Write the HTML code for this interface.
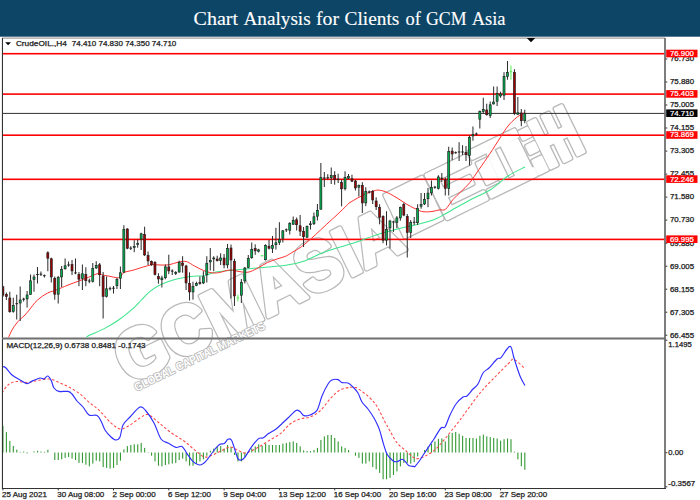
<!DOCTYPE html>
<html><head><meta charset="utf-8"><title>Chart Analysis</title>
<style>
html,body{margin:0;padding:0;background:#ffffff;width:700px;height:500px;overflow:hidden}
svg{display:block}
text{font-family:"Liberation Sans",sans-serif}
.t{stroke:#1a1a1a;stroke-width:0.25px}
.w{stroke:#ffffff;stroke-width:0.2px}
.serif{font-family:"Liberation Serif",serif}
</style></head><body>
<svg width="700" height="500" viewBox="0 0 700 500">
<defs>
<clipPath id="clipMain"><rect x="3" y="38.7" width="661.1" height="298.9"/></clipPath>
<clipPath id="clipMacd"><rect x="3" y="339.4" width="661.1" height="148.2"/></clipPath>
<clipPath id="clipAll"><rect x="3" y="38.7" width="661.1" height="448.9"/></clipPath>
</defs>
<rect x="0" y="0" width="700" height="36.7" fill="#0d4566"/>
<text x="193.6" y="24.6" class="serif" font-size="19.5" fill="#ffffff" stroke="#ffffff" stroke-width="0.12" textLength="44.5" lengthAdjust="spacingAndGlyphs">Chart</text>
<text x="243.4" y="24.6" class="serif" font-size="19.5" fill="#ffffff" stroke="#ffffff" stroke-width="0.12" textLength="67.3" lengthAdjust="spacingAndGlyphs">Analysis</text>
<text x="315.9" y="24.6" class="serif" font-size="19.5" fill="#ffffff" stroke="#ffffff" stroke-width="0.12" textLength="23.1" lengthAdjust="spacingAndGlyphs">for</text>
<text x="344.6" y="24.6" class="serif" font-size="19.5" fill="#ffffff" stroke="#ffffff" stroke-width="0.12" textLength="54.8" lengthAdjust="spacingAndGlyphs">Clients</text>
<text x="405.4" y="24.6" class="serif" font-size="19.5" fill="#ffffff" stroke="#ffffff" stroke-width="0.12" textLength="15.4" lengthAdjust="spacingAndGlyphs">of</text>
<text x="426.0" y="24.6" class="serif" font-size="19.5" fill="#ffffff" stroke="#ffffff" stroke-width="0.12" textLength="40.6" lengthAdjust="spacingAndGlyphs">GCM</text>
<text x="471.7" y="24.6" class="serif" font-size="19.5" fill="#ffffff" stroke="#ffffff" stroke-width="0.12" textLength="33.9" lengthAdjust="spacingAndGlyphs">Asia</text>
<g clip-path="url(#clipAll)">
<g transform="translate(129.1,384.7) rotate(-26)" fill="#b9b9b9" stroke="#b9b9b9" stroke-width="5.7" stroke-linejoin="round">
<text x="0" y="0" font-weight="bold" font-size="70" textLength="310" lengthAdjust="spacingAndGlyphs">GCMASIA</text>
<rect x="313" y="-58" width="41" height="46"/>
<rect x="322" y="-48" width="23" height="26"/>
<rect x="313" y="-38" width="41" height="6"/>
<rect x="359" y="-58" width="8" height="48"/>
<rect x="359" y="-58" width="44" height="8"/>
<rect x="359" y="-38" width="38" height="8"/>
<rect x="359" y="-18" width="44" height="8"/>
<rect x="408" y="-60" width="50" height="7"/>
<rect x="408" y="-17" width="50" height="7"/>
<rect x="424" y="-53" width="6" height="36"/>
<rect x="440" y="-53" width="6" height="36"/>
<rect x="410" y="-46" width="11" height="22"/>
<rect x="447" y="-50" width="9" height="36"/>
<rect x="462" y="-56" width="8" height="8"/>
<rect x="462" y="-40" width="8" height="8"/>
<rect x="461" y="-24" width="9" height="14"/>
<rect x="474" y="-60" width="7" height="50"/>
<rect x="489" y="-60" width="7" height="50"/>
<rect x="504" y="-61" width="7" height="51"/>
<rect x="482" y="-40" width="5" height="8"/>
<rect x="497" y="-40" width="5" height="8"/>
</g>
<g transform="translate(129.1,384.7) rotate(-26)" fill="#ffffff" stroke="#ffffff" stroke-width="3.1000000000000005" stroke-linejoin="round">
<text x="0" y="0" font-weight="bold" font-size="70" textLength="310" lengthAdjust="spacingAndGlyphs">GCMASIA</text>
<rect x="313" y="-58" width="41" height="46"/>
<rect x="322" y="-48" width="23" height="26"/>
<rect x="313" y="-38" width="41" height="6"/>
<rect x="359" y="-58" width="8" height="48"/>
<rect x="359" y="-58" width="44" height="8"/>
<rect x="359" y="-38" width="38" height="8"/>
<rect x="359" y="-18" width="44" height="8"/>
<rect x="408" y="-60" width="50" height="7"/>
<rect x="408" y="-17" width="50" height="7"/>
<rect x="424" y="-53" width="6" height="36"/>
<rect x="440" y="-53" width="6" height="36"/>
<rect x="410" y="-46" width="11" height="22"/>
<rect x="447" y="-50" width="9" height="36"/>
<rect x="462" y="-56" width="8" height="8"/>
<rect x="462" y="-40" width="8" height="8"/>
<rect x="461" y="-24" width="9" height="14"/>
<rect x="474" y="-60" width="7" height="50"/>
<rect x="489" y="-60" width="7" height="50"/>
<rect x="504" y="-61" width="7" height="51"/>
<rect x="482" y="-40" width="5" height="8"/>
<rect x="497" y="-40" width="5" height="8"/>
</g>
<g transform="translate(136.5,391.5) rotate(-26)" fill="#b9b9b9" stroke="#b9b9b9" stroke-width="1.7" stroke-linejoin="round">
<text x="0" y="0" font-weight="bold" font-size="11.5" textLength="144" lengthAdjust="spacingAndGlyphs">GLOBAL CAPITAL MARKETS</text>
</g>
<g transform="translate(136.5,391.5) rotate(-26)" fill="#ffffff" stroke="#ffffff" stroke-width="0.01" stroke-linejoin="round">
<text x="0" y="0" font-weight="bold" font-size="11.5" textLength="144" lengthAdjust="spacingAndGlyphs">GLOBAL CAPITAL MARKETS</text>
</g>
</g>
<rect x="2.4" y="37.5" width="662.5" height="1.2" fill="#9a9a9a"/>
<rect x="1.9" y="38" width="1.1" height="451" fill="#333"/>
<rect x="664.1" y="38" width="1.8" height="450" fill="#6f6f6f"/>
<rect x="2" y="337.5" width="664" height="2.0" fill="#6f6f6f"/>
<rect x="2" y="488" width="664" height="1" fill="#333"/>
<path d="M526.8,38 L535.2,38 L531,42.2 Z" fill="#000"/>
<path d="M5.2,42.3 L11,42.3 L8.1,45.2 Z" fill="#000"/>
<text x="15.9" y="45.9" font-size="7.2" fill="#1a1a1a" class="t" textLength="51" lengthAdjust="spacingAndGlyphs">CrudeOIL.,H4</text>
<text x="71.8" y="45.9" font-size="7.2" fill="#1a1a1a" class="t" textLength="104.5" lengthAdjust="spacingAndGlyphs">74.410 74.830 74.350 74.710</text>
<rect x="3" y="52.90" width="661.2" height="1.6" fill="#ff0000"/>
<rect x="3" y="93.30" width="661.2" height="1.6" fill="#ff0000"/>
<rect x="3" y="134.40" width="661.2" height="1.6" fill="#ff0000"/>
<rect x="3" y="178.50" width="661.2" height="1.6" fill="#ff0000"/>
<rect x="3" y="238.60" width="661.2" height="1.6" fill="#ff0000"/>
<rect x="3" y="112.9" width="661.2" height="1" fill="#303030"/>
<g clip-path="url(#clipMain)">
<path d="M86.00,337.50 C86.67,337.08 86.95,336.48 90.00,335.00 C93.05,333.52 99.53,331.10 104.30,328.60 C109.07,326.10 113.83,323.33 118.60,320.00 C123.37,316.67 129.10,311.93 132.90,308.60 C136.70,305.27 138.55,302.87 141.40,300.00 C144.25,297.13 146.67,294.02 150.00,291.40 C153.33,288.78 157.12,286.32 161.40,284.30 C165.68,282.28 170.93,280.62 175.70,279.30 C180.47,277.98 185.12,277.00 190.00,276.40 C194.88,275.80 200.83,276.40 205.00,275.70 C209.17,275.00 210.08,273.15 215.00,272.20 C219.92,271.25 227.00,270.75 234.50,270.00 C242.00,269.25 251.47,268.48 260.00,267.70 C268.53,266.92 278.27,266.43 285.70,265.30 C293.13,264.17 298.83,262.82 304.60,260.90 C310.37,258.98 315.07,255.90 320.30,253.80 C325.53,251.70 330.75,250.00 336.00,248.30 C341.25,246.60 346.55,245.30 351.80,243.60 C357.05,241.90 362.80,239.73 367.50,238.10 C372.20,236.47 375.00,235.32 380.00,233.80 C385.00,232.28 390.83,230.68 397.50,229.00 C404.17,227.32 413.75,225.33 420.00,223.70 C426.25,222.07 430.83,220.82 435.00,219.20 C439.17,217.58 442.17,215.53 445.00,214.00 C447.83,212.47 447.83,212.33 452.00,210.00 C456.17,207.67 463.67,203.33 470.00,200.00 C476.33,196.67 483.67,194.00 490.00,190.00 C496.33,186.00 502.17,179.83 508.00,176.00 C513.83,172.17 522.17,168.50 525.00,167.00" fill="none" stroke="#3ee48c" stroke-width="1.05"/>
<path d="M8.50,337.50 C9.08,336.25 10.75,332.25 12.00,330.00 C13.25,327.75 14.67,325.75 16.00,324.00 C17.33,322.25 18.50,321.00 20.00,319.50 C21.50,318.00 23.33,316.75 25.00,315.00 C26.67,313.25 28.33,311.08 30.00,309.00 C31.67,306.92 33.33,304.33 35.00,302.50 C36.67,300.67 38.33,299.33 40.00,298.00 C41.67,296.67 43.33,295.50 45.00,294.50 C46.67,293.50 48.33,292.67 50.00,292.00 C51.67,291.33 52.58,291.42 55.00,290.50 C57.42,289.58 62.00,287.53 64.50,286.50 C67.00,285.47 66.58,285.60 70.00,284.30 C73.42,283.00 80.50,280.45 85.00,278.70 C89.50,276.95 94.50,274.55 97.00,273.80 C99.50,273.05 98.50,273.88 100.00,274.20 C101.50,274.52 104.33,275.35 106.00,275.70 C107.67,276.05 108.25,275.97 110.00,276.30 C111.75,276.63 114.80,277.58 116.50,277.70 C118.20,277.82 118.95,277.87 120.20,277.00 C121.45,276.13 121.87,273.63 124.00,272.50 C126.13,271.37 129.50,271.20 133.00,270.20 C136.50,269.20 141.75,267.42 145.00,266.50 C148.25,265.58 150.00,264.95 152.50,264.70 C155.00,264.45 157.25,264.98 160.00,265.00 C162.75,265.02 166.00,265.27 169.00,264.80 C172.00,264.33 175.13,262.75 178.00,262.20 C180.87,261.65 183.45,260.87 186.20,261.50 C188.95,262.13 191.62,264.50 194.50,266.00 C197.38,267.50 200.75,269.38 203.50,270.50 C206.25,271.62 208.50,272.33 211.00,272.70 C213.50,273.07 215.33,273.15 218.50,272.70 C221.67,272.25 226.58,270.20 230.00,270.00 C233.42,269.80 236.00,271.13 239.00,271.50 C242.00,271.87 245.00,272.70 248.00,272.20 C251.00,271.70 253.75,270.12 257.00,268.50 C260.25,266.88 264.00,264.13 267.50,262.50 C271.00,260.87 274.97,259.75 278.00,258.70 C281.03,257.65 283.37,257.23 285.70,256.20 C288.03,255.17 289.38,254.08 292.00,252.50 C294.62,250.92 298.25,248.97 301.40,246.70 C304.55,244.43 307.75,241.65 310.90,238.90 C314.05,236.15 316.90,233.35 320.30,230.20 C323.70,227.05 328.85,222.25 331.30,220.00 C333.75,217.75 332.72,218.83 335.00,216.70 C337.28,214.57 342.50,209.57 345.00,207.20 C347.50,204.83 346.67,204.67 350.00,202.50 C353.33,200.33 361.00,196.15 365.00,194.20 C369.00,192.25 371.63,191.47 374.00,190.80 C376.37,190.13 377.20,190.00 379.20,190.20 C381.20,190.40 383.20,190.82 386.00,192.00 C388.80,193.18 392.33,195.13 396.00,197.30 C399.67,199.47 404.50,202.97 408.00,205.00 C411.50,207.03 414.50,208.38 417.00,209.50 C419.50,210.62 420.50,211.37 423.00,211.70 C425.50,212.03 429.17,211.82 432.00,211.50 C434.83,211.18 437.75,210.17 440.00,209.80 C442.25,209.43 443.33,211.02 445.50,209.30 C447.67,207.58 450.45,202.42 453.00,199.50 C455.55,196.58 457.98,194.63 460.80,191.80 C463.62,188.97 466.87,186.22 469.90,182.50 C472.93,178.78 475.65,174.33 479.00,169.50 C482.35,164.67 486.50,158.75 490.00,153.50 C493.50,148.25 497.00,142.58 500.00,138.00 C503.00,133.42 505.33,129.33 508.00,126.00 C510.67,122.67 513.67,120.00 516.00,118.00 C518.33,116.00 520.50,114.92 522.00,114.00 C523.50,113.08 524.50,112.75 525.00,112.50" fill="none" stroke="#ff3030" stroke-width="1.0"/>
<rect x="2.40" y="285.70" width="1" height="11.30" fill="#2a2a2a"/>
<rect x="1.90" y="286.80" width="2.0" height="8.40" fill="#9c0000" stroke="#1e1e1e" stroke-width="0.65"/>
<rect x="5.86" y="292.50" width="1" height="7.50" fill="#2a2a2a"/>
<rect x="5.36" y="294.60" width="2.0" height="1.80" fill="#9c0000" stroke="#1e1e1e" stroke-width="0.65"/>
<rect x="9.31" y="291.70" width="1" height="21.00" fill="#2a2a2a"/>
<rect x="8.81" y="298.00" width="2.0" height="13.70" fill="#9c0000" stroke="#1e1e1e" stroke-width="0.65"/>
<rect x="12.77" y="297.70" width="1" height="15.00" fill="#2a2a2a"/>
<rect x="12.27" y="305.50" width="2.0" height="5.90" fill="#00b04f" stroke="#1e1e1e" stroke-width="0.65"/>
<rect x="16.22" y="294.70" width="1" height="24.80" fill="#2a2a2a"/>
<rect x="15.42" y="303.20" width="2.6" height="1.0" fill="#1e1e1e"/>
<rect x="19.68" y="286.50" width="1" height="34.50" fill="#2a2a2a"/>
<rect x="19.18" y="300.00" width="2.0" height="3.00" fill="#00b04f" stroke="#1e1e1e" stroke-width="0.65"/>
<rect x="23.14" y="297.70" width="1" height="3.80" fill="#2a2a2a"/>
<rect x="22.34" y="298.70" width="2.6" height="1.0" fill="#1e1e1e"/>
<rect x="26.59" y="291.00" width="1" height="16.50" fill="#2a2a2a"/>
<rect x="26.09" y="295.00" width="2.0" height="3.90" fill="#00b04f" stroke="#1e1e1e" stroke-width="0.65"/>
<rect x="30.05" y="274.50" width="1" height="20.20" fill="#2a2a2a"/>
<rect x="29.55" y="280.80" width="2.0" height="13.60" fill="#00b04f" stroke="#1e1e1e" stroke-width="0.65"/>
<rect x="33.50" y="274.50" width="1" height="17.20" fill="#2a2a2a"/>
<rect x="33.00" y="277.00" width="2.0" height="2.40" fill="#00b04f" stroke="#1e1e1e" stroke-width="0.65"/>
<rect x="36.96" y="267.00" width="1" height="16.50" fill="#2a2a2a"/>
<rect x="36.16" y="274.00" width="2.6" height="1.0" fill="#1e1e1e"/>
<rect x="40.42" y="271.50" width="1" height="4.50" fill="#2a2a2a"/>
<rect x="39.62" y="273.70" width="2.6" height="1.0" fill="#1e1e1e"/>
<rect x="43.87" y="274.50" width="1" height="3.00" fill="#2a2a2a"/>
<rect x="43.07" y="275.20" width="2.6" height="1.0" fill="#1e1e1e"/>
<rect x="47.33" y="251.30" width="1" height="19.90" fill="#2a2a2a"/>
<rect x="46.83" y="252.80" width="2.0" height="5.40" fill="#9c0000" stroke="#1e1e1e" stroke-width="0.65"/>
<rect x="50.78" y="257.70" width="1" height="24.80" fill="#2a2a2a"/>
<rect x="50.28" y="258.80" width="2.0" height="18.10" fill="#9c0000" stroke="#1e1e1e" stroke-width="0.65"/>
<rect x="54.24" y="276.50" width="1" height="23.20" fill="#2a2a2a"/>
<rect x="53.74" y="278.30" width="2.0" height="15.90" fill="#9c0000" stroke="#1e1e1e" stroke-width="0.65"/>
<rect x="57.70" y="276.00" width="1" height="27.50" fill="#2a2a2a"/>
<rect x="57.20" y="277.50" width="2.0" height="16.70" fill="#00b04f" stroke="#1e1e1e" stroke-width="0.65"/>
<rect x="61.15" y="266.00" width="1" height="21.00" fill="#2a2a2a"/>
<rect x="60.65" y="269.30" width="2.0" height="7.60" fill="#00b04f" stroke="#1e1e1e" stroke-width="0.65"/>
<rect x="64.61" y="258.50" width="1" height="11.20" fill="#2a2a2a"/>
<rect x="64.11" y="265.80" width="2.0" height="2.90" fill="#00b04f" stroke="#1e1e1e" stroke-width="0.65"/>
<rect x="68.06" y="261.50" width="1" height="5.20" fill="#2a2a2a"/>
<rect x="67.26" y="264.50" width="2.6" height="1.0" fill="#1e1e1e"/>
<rect x="71.52" y="260.00" width="1" height="15.00" fill="#2a2a2a"/>
<rect x="71.02" y="264.50" width="2.0" height="6.40" fill="#9c0000" stroke="#1e1e1e" stroke-width="0.65"/>
<rect x="74.98" y="258.50" width="1" height="15.70" fill="#2a2a2a"/>
<rect x="74.18" y="272.40" width="2.6" height="1.0" fill="#1e1e1e"/>
<rect x="78.43" y="272.00" width="1" height="14.20" fill="#2a2a2a"/>
<rect x="77.93" y="274.50" width="2.0" height="4.70" fill="#9c0000" stroke="#1e1e1e" stroke-width="0.65"/>
<rect x="81.89" y="264.50" width="1" height="25.50" fill="#2a2a2a"/>
<rect x="81.39" y="273.80" width="2.0" height="4.60" fill="#00b04f" stroke="#1e1e1e" stroke-width="0.65"/>
<rect x="85.34" y="267.20" width="1" height="19.00" fill="#2a2a2a"/>
<rect x="84.84" y="274.50" width="2.0" height="6.20" fill="#9c0000" stroke="#1e1e1e" stroke-width="0.65"/>
<rect x="88.80" y="278.70" width="1" height="4.50" fill="#2a2a2a"/>
<rect x="88.00" y="280.50" width="2.6" height="1.0" fill="#1e1e1e"/>
<rect x="92.26" y="263.00" width="1" height="19.50" fill="#2a2a2a"/>
<rect x="91.76" y="268.50" width="2.0" height="12.90" fill="#00b04f" stroke="#1e1e1e" stroke-width="0.65"/>
<rect x="95.71" y="261.20" width="1" height="7.80" fill="#2a2a2a"/>
<rect x="95.21" y="265.50" width="2.0" height="2.40" fill="#00b04f" stroke="#1e1e1e" stroke-width="0.65"/>
<rect x="99.17" y="263.00" width="1" height="23.20" fill="#2a2a2a"/>
<rect x="98.67" y="264.80" width="2.0" height="9.90" fill="#9c0000" stroke="#1e1e1e" stroke-width="0.65"/>
<rect x="102.62" y="272.00" width="1" height="46.50" fill="#2a2a2a"/>
<rect x="102.12" y="276.00" width="2.0" height="20.40" fill="#9c0000" stroke="#1e1e1e" stroke-width="0.65"/>
<rect x="106.08" y="276.50" width="1" height="21.00" fill="#2a2a2a"/>
<rect x="105.58" y="288.80" width="2.0" height="7.60" fill="#00b04f" stroke="#1e1e1e" stroke-width="0.65"/>
<rect x="109.54" y="286.70" width="1" height="3.80" fill="#2a2a2a"/>
<rect x="108.74" y="288.20" width="2.6" height="1.0" fill="#1e1e1e"/>
<rect x="112.99" y="286.00" width="1" height="7.50" fill="#2a2a2a"/>
<rect x="112.19" y="287.70" width="2.6" height="1.0" fill="#1e1e1e"/>
<rect x="116.45" y="277.70" width="1" height="11.30" fill="#2a2a2a"/>
<rect x="115.95" y="279.50" width="2.0" height="6.20" fill="#00b04f" stroke="#1e1e1e" stroke-width="0.65"/>
<rect x="119.90" y="266.50" width="1" height="22.50" fill="#2a2a2a"/>
<rect x="119.40" y="272.80" width="2.0" height="5.40" fill="#00b04f" stroke="#1e1e1e" stroke-width="0.65"/>
<rect x="123.36" y="225.20" width="1" height="47.30" fill="#2a2a2a"/>
<rect x="122.86" y="229.30" width="2.0" height="42.90" fill="#00b04f" stroke="#1e1e1e" stroke-width="0.65"/>
<rect x="126.82" y="228.20" width="1" height="21.00" fill="#2a2a2a"/>
<rect x="126.32" y="229.00" width="2.0" height="19.20" fill="#9c0000" stroke="#1e1e1e" stroke-width="0.65"/>
<rect x="130.27" y="246.20" width="1" height="3.80" fill="#2a2a2a"/>
<rect x="129.47" y="247.70" width="2.6" height="1.0" fill="#1e1e1e"/>
<rect x="133.73" y="240.20" width="1" height="12.00" fill="#2a2a2a"/>
<rect x="133.23" y="246.50" width="2.0" height="0.90" fill="#00b04f" stroke="#1e1e1e" stroke-width="0.65"/>
<rect x="137.18" y="239.50" width="1" height="8.20" fill="#2a2a2a"/>
<rect x="136.68" y="243.50" width="2.0" height="0.90" fill="#00b04f" stroke="#1e1e1e" stroke-width="0.65"/>
<rect x="140.64" y="232.70" width="1" height="17.30" fill="#2a2a2a"/>
<rect x="140.14" y="233.80" width="2.0" height="5.40" fill="#00b04f" stroke="#1e1e1e" stroke-width="0.65"/>
<rect x="144.10" y="226.70" width="1" height="29.30" fill="#2a2a2a"/>
<rect x="143.60" y="234.50" width="2.0" height="20.40" fill="#9c0000" stroke="#1e1e1e" stroke-width="0.65"/>
<rect x="147.55" y="251.50" width="1" height="13.50" fill="#2a2a2a"/>
<rect x="147.05" y="255.50" width="2.0" height="5.40" fill="#9c0000" stroke="#1e1e1e" stroke-width="0.65"/>
<rect x="151.01" y="260.50" width="1" height="5.20" fill="#2a2a2a"/>
<rect x="150.51" y="261.50" width="2.0" height="3.20" fill="#9c0000" stroke="#1e1e1e" stroke-width="0.65"/>
<rect x="154.46" y="261.20" width="1" height="14.30" fill="#2a2a2a"/>
<rect x="153.96" y="262.30" width="2.0" height="12.10" fill="#9c0000" stroke="#1e1e1e" stroke-width="0.65"/>
<rect x="157.92" y="273.20" width="1" height="10.50" fill="#2a2a2a"/>
<rect x="157.42" y="276.50" width="2.0" height="2.40" fill="#9c0000" stroke="#1e1e1e" stroke-width="0.65"/>
<rect x="161.38" y="275.70" width="1" height="11.80" fill="#2a2a2a"/>
<rect x="160.88" y="278.00" width="2.0" height="1.70" fill="#00b04f" stroke="#1e1e1e" stroke-width="0.65"/>
<rect x="164.83" y="264.50" width="1" height="14.80" fill="#2a2a2a"/>
<rect x="164.33" y="266.90" width="2.0" height="10.80" fill="#00b04f" stroke="#1e1e1e" stroke-width="0.65"/>
<rect x="168.29" y="254.70" width="1" height="19.50" fill="#2a2a2a"/>
<rect x="167.79" y="266.90" width="2.0" height="4.00" fill="#9c0000" stroke="#1e1e1e" stroke-width="0.65"/>
<rect x="171.74" y="269.30" width="1" height="5.70" fill="#2a2a2a"/>
<rect x="170.94" y="270.60" width="2.6" height="1.0" fill="#1e1e1e"/>
<rect x="175.20" y="271.20" width="1" height="3.80" fill="#2a2a2a"/>
<rect x="174.70" y="272.60" width="2.0" height="0.90" fill="#00b04f" stroke="#1e1e1e" stroke-width="0.65"/>
<rect x="178.66" y="260.70" width="1" height="12.00" fill="#2a2a2a"/>
<rect x="178.16" y="262.50" width="2.0" height="9.50" fill="#00b04f" stroke="#1e1e1e" stroke-width="0.65"/>
<rect x="182.11" y="256.20" width="1" height="16.50" fill="#2a2a2a"/>
<rect x="181.61" y="263.00" width="2.0" height="2.40" fill="#9c0000" stroke="#1e1e1e" stroke-width="0.65"/>
<rect x="185.57" y="264.80" width="1" height="25.20" fill="#2a2a2a"/>
<rect x="185.07" y="266.00" width="2.0" height="16.90" fill="#9c0000" stroke="#1e1e1e" stroke-width="0.65"/>
<rect x="189.02" y="272.30" width="1" height="28.20" fill="#2a2a2a"/>
<rect x="188.52" y="283.50" width="2.0" height="8.40" fill="#9c0000" stroke="#1e1e1e" stroke-width="0.65"/>
<rect x="192.48" y="281.70" width="1" height="18.00" fill="#2a2a2a"/>
<rect x="191.98" y="286.50" width="2.0" height="5.40" fill="#00b04f" stroke="#1e1e1e" stroke-width="0.65"/>
<rect x="195.94" y="281.70" width="1" height="4.50" fill="#2a2a2a"/>
<rect x="195.44" y="283.50" width="2.0" height="2.00" fill="#00b04f" stroke="#1e1e1e" stroke-width="0.65"/>
<rect x="199.39" y="276.50" width="1" height="8.20" fill="#2a2a2a"/>
<rect x="198.89" y="282.50" width="2.0" height="0.90" fill="#9c0000" stroke="#1e1e1e" stroke-width="0.65"/>
<rect x="202.85" y="271.20" width="1" height="12.80" fill="#2a2a2a"/>
<rect x="202.35" y="276.80" width="2.0" height="6.10" fill="#00b04f" stroke="#1e1e1e" stroke-width="0.65"/>
<rect x="206.30" y="256.20" width="1" height="26.30" fill="#2a2a2a"/>
<rect x="205.80" y="263.30" width="2.0" height="11.40" fill="#00b04f" stroke="#1e1e1e" stroke-width="0.65"/>
<rect x="209.76" y="248.00" width="1" height="22.50" fill="#2a2a2a"/>
<rect x="209.26" y="260.30" width="2.0" height="1.60" fill="#00b04f" stroke="#1e1e1e" stroke-width="0.65"/>
<rect x="213.22" y="256.20" width="1" height="15.00" fill="#2a2a2a"/>
<rect x="212.72" y="258.00" width="2.0" height="0.90" fill="#00b04f" stroke="#1e1e1e" stroke-width="0.65"/>
<rect x="216.67" y="255.70" width="1" height="5.80" fill="#2a2a2a"/>
<rect x="216.17" y="259.00" width="2.0" height="1.70" fill="#9c0000" stroke="#1e1e1e" stroke-width="0.65"/>
<rect x="220.13" y="253.30" width="1" height="11.70" fill="#2a2a2a"/>
<rect x="219.63" y="258.00" width="2.0" height="2.40" fill="#00b04f" stroke="#1e1e1e" stroke-width="0.65"/>
<rect x="223.58" y="254.00" width="1" height="14.30" fill="#2a2a2a"/>
<rect x="223.08" y="258.00" width="2.0" height="6.90" fill="#9c0000" stroke="#1e1e1e" stroke-width="0.65"/>
<rect x="227.04" y="243.90" width="1" height="24.40" fill="#2a2a2a"/>
<rect x="226.54" y="248.50" width="2.0" height="16.40" fill="#00b04f" stroke="#1e1e1e" stroke-width="0.65"/>
<rect x="230.50" y="244.50" width="1" height="54.00" fill="#2a2a2a"/>
<rect x="230.00" y="248.00" width="2.0" height="12.00" fill="#9c0000" stroke="#1e1e1e" stroke-width="0.65"/>
<rect x="233.95" y="258.70" width="1" height="47.30" fill="#2a2a2a"/>
<rect x="233.45" y="261.30" width="2.0" height="34.60" fill="#9c0000" stroke="#1e1e1e" stroke-width="0.65"/>
<rect x="237.41" y="294.70" width="1" height="6.80" fill="#55ee55"/>
<rect x="236.61" y="297.50" width="2.6" height="1" fill="#55ee55"/>
<rect x="240.86" y="279.00" width="1" height="24.00" fill="#2a2a2a"/>
<rect x="240.36" y="282.30" width="2.0" height="12.90" fill="#00b04f" stroke="#1e1e1e" stroke-width="0.65"/>
<rect x="244.32" y="267.00" width="1" height="16.50" fill="#2a2a2a"/>
<rect x="243.82" y="268.00" width="2.0" height="12.90" fill="#00b04f" stroke="#1e1e1e" stroke-width="0.65"/>
<rect x="247.78" y="255.00" width="1" height="13.30" fill="#2a2a2a"/>
<rect x="247.28" y="258.30" width="2.0" height="9.10" fill="#00b04f" stroke="#1e1e1e" stroke-width="0.65"/>
<rect x="251.23" y="242.50" width="1" height="16.20" fill="#2a2a2a"/>
<rect x="250.73" y="249.30" width="2.0" height="8.40" fill="#00b04f" stroke="#1e1e1e" stroke-width="0.65"/>
<rect x="254.69" y="244.30" width="1" height="10.50" fill="#2a2a2a"/>
<rect x="254.19" y="248.60" width="2.0" height="2.20" fill="#9c0000" stroke="#1e1e1e" stroke-width="0.65"/>
<rect x="258.14" y="248.80" width="1" height="3.70" fill="#2a2a2a"/>
<rect x="257.64" y="249.90" width="2.0" height="1.30" fill="#00b04f" stroke="#1e1e1e" stroke-width="0.65"/>
<rect x="261.60" y="255.00" width="1" height="1.50" fill="#55ee55"/>
<rect x="260.80" y="255.20" width="2.6" height="1" fill="#55ee55"/>
<rect x="265.06" y="244.30" width="1" height="16.20" fill="#2a2a2a"/>
<rect x="264.56" y="245.40" width="2.0" height="14.30" fill="#00b04f" stroke="#1e1e1e" stroke-width="0.65"/>
<rect x="268.51" y="240.00" width="1" height="9.50" fill="#2a2a2a"/>
<rect x="268.01" y="246.20" width="2.0" height="2.00" fill="#9c0000" stroke="#1e1e1e" stroke-width="0.65"/>
<rect x="271.97" y="236.00" width="1" height="17.00" fill="#2a2a2a"/>
<rect x="271.47" y="245.40" width="2.0" height="3.10" fill="#00b04f" stroke="#1e1e1e" stroke-width="0.65"/>
<rect x="275.42" y="227.80" width="1" height="21.70" fill="#2a2a2a"/>
<rect x="274.92" y="242.80" width="2.0" height="1.90" fill="#00b04f" stroke="#1e1e1e" stroke-width="0.65"/>
<rect x="278.88" y="222.20" width="1" height="22.80" fill="#2a2a2a"/>
<rect x="278.38" y="239.30" width="2.0" height="3.10" fill="#00b04f" stroke="#1e1e1e" stroke-width="0.65"/>
<rect x="282.34" y="230.00" width="1" height="12.50" fill="#2a2a2a"/>
<rect x="281.84" y="230.80" width="2.0" height="7.40" fill="#00b04f" stroke="#1e1e1e" stroke-width="0.65"/>
<rect x="285.79" y="228.50" width="1" height="3.50" fill="#2a2a2a"/>
<rect x="284.99" y="229.30" width="2.6" height="1.0" fill="#1e1e1e"/>
<rect x="289.25" y="222.20" width="1" height="12.30" fill="#2a2a2a"/>
<rect x="288.75" y="223.30" width="2.0" height="6.90" fill="#00b04f" stroke="#1e1e1e" stroke-width="0.65"/>
<rect x="292.70" y="216.50" width="1" height="8.50" fill="#2a2a2a"/>
<rect x="292.20" y="220.30" width="2.0" height="3.90" fill="#00b04f" stroke="#1e1e1e" stroke-width="0.65"/>
<rect x="296.16" y="217.50" width="1" height="13.00" fill="#2a2a2a"/>
<rect x="295.66" y="219.80" width="2.0" height="4.90" fill="#9c0000" stroke="#1e1e1e" stroke-width="0.65"/>
<rect x="299.62" y="215.00" width="1" height="21.00" fill="#2a2a2a"/>
<rect x="299.12" y="225.80" width="2.0" height="5.40" fill="#9c0000" stroke="#1e1e1e" stroke-width="0.65"/>
<rect x="303.07" y="227.00" width="1" height="20.00" fill="#2a2a2a"/>
<rect x="302.57" y="231.30" width="2.0" height="5.40" fill="#9c0000" stroke="#1e1e1e" stroke-width="0.65"/>
<rect x="306.53" y="225.50" width="1" height="12.50" fill="#2a2a2a"/>
<rect x="306.03" y="226.30" width="2.0" height="10.90" fill="#00b04f" stroke="#1e1e1e" stroke-width="0.65"/>
<rect x="309.98" y="221.00" width="1" height="8.50" fill="#2a2a2a"/>
<rect x="309.48" y="223.80" width="2.0" height="0.90" fill="#00b04f" stroke="#1e1e1e" stroke-width="0.65"/>
<rect x="313.44" y="212.50" width="1" height="12.50" fill="#2a2a2a"/>
<rect x="312.94" y="216.80" width="2.0" height="6.90" fill="#00b04f" stroke="#1e1e1e" stroke-width="0.65"/>
<rect x="316.90" y="204.00" width="1" height="16.50" fill="#2a2a2a"/>
<rect x="316.40" y="210.30" width="2.0" height="5.90" fill="#00b04f" stroke="#1e1e1e" stroke-width="0.65"/>
<rect x="320.35" y="163.00" width="1" height="46.50" fill="#2a2a2a"/>
<rect x="319.85" y="177.50" width="2.0" height="31.70" fill="#00b04f" stroke="#1e1e1e" stroke-width="0.65"/>
<rect x="323.81" y="172.00" width="1" height="15.00" fill="#2a2a2a"/>
<rect x="323.01" y="177.50" width="2.6" height="1.0" fill="#1e1e1e"/>
<rect x="327.26" y="174.20" width="1" height="5.30" fill="#2a2a2a"/>
<rect x="326.46" y="177.30" width="2.6" height="1.0" fill="#1e1e1e"/>
<rect x="330.72" y="167.50" width="1" height="16.50" fill="#2a2a2a"/>
<rect x="330.22" y="175.30" width="2.0" height="2.40" fill="#00b04f" stroke="#1e1e1e" stroke-width="0.65"/>
<rect x="334.18" y="171.20" width="1" height="13.50" fill="#2a2a2a"/>
<rect x="333.68" y="175.30" width="2.0" height="3.90" fill="#9c0000" stroke="#1e1e1e" stroke-width="0.65"/>
<rect x="337.63" y="173.70" width="1" height="9.30" fill="#2a2a2a"/>
<rect x="336.83" y="178.80" width="2.6" height="1.0" fill="#1e1e1e"/>
<rect x="341.09" y="179.80" width="1" height="26.50" fill="#2a2a2a"/>
<rect x="340.59" y="182.60" width="2.0" height="6.20" fill="#9c0000" stroke="#1e1e1e" stroke-width="0.65"/>
<rect x="344.54" y="171.30" width="1" height="19.20" fill="#2a2a2a"/>
<rect x="344.04" y="177.30" width="2.0" height="11.40" fill="#00b04f" stroke="#1e1e1e" stroke-width="0.65"/>
<rect x="348.00" y="174.00" width="1" height="5.20" fill="#2a2a2a"/>
<rect x="347.50" y="176.50" width="2.0" height="1.70" fill="#00b04f" stroke="#1e1e1e" stroke-width="0.65"/>
<rect x="351.46" y="174.70" width="1" height="7.30" fill="#2a2a2a"/>
<rect x="350.96" y="178.80" width="2.0" height="2.40" fill="#9c0000" stroke="#1e1e1e" stroke-width="0.65"/>
<rect x="354.91" y="180.00" width="1" height="10.50" fill="#2a2a2a"/>
<rect x="354.41" y="181.00" width="2.0" height="6.90" fill="#9c0000" stroke="#1e1e1e" stroke-width="0.65"/>
<rect x="358.37" y="184.50" width="1" height="12.00" fill="#2a2a2a"/>
<rect x="357.87" y="185.50" width="2.0" height="1.70" fill="#00b04f" stroke="#1e1e1e" stroke-width="0.65"/>
<rect x="361.82" y="182.20" width="1" height="30.80" fill="#2a2a2a"/>
<rect x="361.32" y="185.50" width="2.0" height="17.40" fill="#9c0000" stroke="#1e1e1e" stroke-width="0.65"/>
<rect x="365.28" y="187.20" width="1" height="19.00" fill="#2a2a2a"/>
<rect x="364.78" y="191.50" width="2.0" height="11.40" fill="#00b04f" stroke="#1e1e1e" stroke-width="0.65"/>
<rect x="368.74" y="190.50" width="1" height="3.00" fill="#2a2a2a"/>
<rect x="367.94" y="191.50" width="2.6" height="1.0" fill="#1e1e1e"/>
<rect x="372.19" y="190.20" width="1" height="13.80" fill="#2a2a2a"/>
<rect x="371.69" y="191.50" width="2.0" height="8.40" fill="#9c0000" stroke="#1e1e1e" stroke-width="0.65"/>
<rect x="375.65" y="197.30" width="1" height="12.70" fill="#2a2a2a"/>
<rect x="375.15" y="201.00" width="2.0" height="5.70" fill="#9c0000" stroke="#1e1e1e" stroke-width="0.65"/>
<rect x="379.10" y="204.20" width="1" height="20.10" fill="#2a2a2a"/>
<rect x="378.60" y="207.40" width="2.0" height="9.90" fill="#9c0000" stroke="#1e1e1e" stroke-width="0.65"/>
<rect x="382.56" y="215.30" width="1" height="27.90" fill="#2a2a2a"/>
<rect x="382.06" y="216.50" width="2.0" height="23.70" fill="#9c0000" stroke="#1e1e1e" stroke-width="0.65"/>
<rect x="386.02" y="211.20" width="1" height="34.30" fill="#2a2a2a"/>
<rect x="385.52" y="229.30" width="2.0" height="10.90" fill="#00b04f" stroke="#1e1e1e" stroke-width="0.65"/>
<rect x="389.47" y="219.80" width="1" height="28.70" fill="#2a2a2a"/>
<rect x="388.97" y="221.00" width="2.0" height="6.90" fill="#00b04f" stroke="#1e1e1e" stroke-width="0.65"/>
<rect x="392.93" y="220.70" width="1" height="11.30" fill="#2a2a2a"/>
<rect x="392.13" y="221.50" width="2.6" height="1.0" fill="#1e1e1e"/>
<rect x="396.38" y="216.10" width="1" height="12.10" fill="#2a2a2a"/>
<rect x="395.88" y="217.90" width="2.0" height="4.60" fill="#00b04f" stroke="#1e1e1e" stroke-width="0.65"/>
<rect x="399.84" y="206.60" width="1" height="14.10" fill="#2a2a2a"/>
<rect x="399.34" y="207.60" width="2.0" height="10.30" fill="#00b04f" stroke="#1e1e1e" stroke-width="0.65"/>
<rect x="403.30" y="202.70" width="1" height="13.50" fill="#2a2a2a"/>
<rect x="402.80" y="204.60" width="2.0" height="10.50" fill="#9c0000" stroke="#1e1e1e" stroke-width="0.65"/>
<rect x="406.75" y="214.00" width="1" height="43.50" fill="#2a2a2a"/>
<rect x="406.25" y="216.50" width="2.0" height="15.90" fill="#9c0000" stroke="#1e1e1e" stroke-width="0.65"/>
<rect x="410.21" y="220.00" width="1" height="18.00" fill="#2a2a2a"/>
<rect x="409.71" y="222.50" width="2.0" height="9.90" fill="#00b04f" stroke="#1e1e1e" stroke-width="0.65"/>
<rect x="413.66" y="217.00" width="1" height="8.00" fill="#2a2a2a"/>
<rect x="412.86" y="221.70" width="2.6" height="1.0" fill="#1e1e1e"/>
<rect x="417.12" y="204.20" width="1" height="20.80" fill="#2a2a2a"/>
<rect x="416.62" y="208.30" width="2.0" height="14.40" fill="#00b04f" stroke="#1e1e1e" stroke-width="0.65"/>
<rect x="420.58" y="193.00" width="1" height="15.70" fill="#2a2a2a"/>
<rect x="420.08" y="204.50" width="2.0" height="1.70" fill="#00b04f" stroke="#1e1e1e" stroke-width="0.65"/>
<rect x="424.03" y="193.00" width="1" height="12.00" fill="#2a2a2a"/>
<rect x="423.53" y="199.30" width="2.0" height="4.60" fill="#00b04f" stroke="#1e1e1e" stroke-width="0.65"/>
<rect x="427.49" y="188.00" width="1" height="19.20" fill="#2a2a2a"/>
<rect x="426.99" y="193.10" width="2.0" height="5.60" fill="#00b04f" stroke="#1e1e1e" stroke-width="0.65"/>
<rect x="430.94" y="180.50" width="1" height="15.00" fill="#2a2a2a"/>
<rect x="430.44" y="187.50" width="2.0" height="5.40" fill="#00b04f" stroke="#1e1e1e" stroke-width="0.65"/>
<rect x="434.40" y="185.80" width="1" height="3.00" fill="#2a2a2a"/>
<rect x="433.60" y="186.70" width="2.6" height="1.0" fill="#1e1e1e"/>
<rect x="437.86" y="175.20" width="1" height="14.30" fill="#2a2a2a"/>
<rect x="437.36" y="177.00" width="2.0" height="11.40" fill="#00b04f" stroke="#1e1e1e" stroke-width="0.65"/>
<rect x="441.31" y="173.00" width="1" height="9.00" fill="#2a2a2a"/>
<rect x="440.51" y="177.70" width="2.6" height="1.0" fill="#1e1e1e"/>
<rect x="444.77" y="177.50" width="1" height="18.00" fill="#2a2a2a"/>
<rect x="444.27" y="180.00" width="2.0" height="8.40" fill="#9c0000" stroke="#1e1e1e" stroke-width="0.65"/>
<rect x="448.22" y="146.70" width="1" height="48.80" fill="#2a2a2a"/>
<rect x="447.72" y="151.50" width="2.0" height="36.90" fill="#00b04f" stroke="#1e1e1e" stroke-width="0.65"/>
<rect x="451.68" y="147.50" width="1" height="12.70" fill="#2a2a2a"/>
<rect x="451.18" y="151.10" width="2.0" height="2.80" fill="#9c0000" stroke="#1e1e1e" stroke-width="0.65"/>
<rect x="455.14" y="151.50" width="1" height="2.20" fill="#2a2a2a"/>
<rect x="454.34" y="152.20" width="2.6" height="1.0" fill="#1e1e1e"/>
<rect x="458.59" y="142.20" width="1" height="18.80" fill="#2a2a2a"/>
<rect x="457.79" y="151.50" width="2.6" height="1.0" fill="#1e1e1e"/>
<rect x="462.05" y="145.20" width="1" height="9.80" fill="#2a2a2a"/>
<rect x="461.25" y="151.50" width="2.6" height="1.0" fill="#1e1e1e"/>
<rect x="465.50" y="146.00" width="1" height="15.00" fill="#2a2a2a"/>
<rect x="465.00" y="152.30" width="2.0" height="2.40" fill="#9c0000" stroke="#1e1e1e" stroke-width="0.65"/>
<rect x="468.96" y="135.50" width="1" height="30.00" fill="#2a2a2a"/>
<rect x="468.46" y="137.30" width="2.0" height="18.10" fill="#00b04f" stroke="#1e1e1e" stroke-width="0.65"/>
<rect x="472.42" y="126.50" width="1" height="14.20" fill="#2a2a2a"/>
<rect x="471.92" y="134.30" width="2.0" height="1.60" fill="#00b04f" stroke="#1e1e1e" stroke-width="0.65"/>
<rect x="475.87" y="132.50" width="1" height="3.00" fill="#2a2a2a"/>
<rect x="475.07" y="133.50" width="2.6" height="1.0" fill="#1e1e1e"/>
<rect x="479.33" y="110.50" width="1" height="18.00" fill="#2a2a2a"/>
<rect x="478.83" y="111.50" width="2.0" height="7.70" fill="#00b04f" stroke="#1e1e1e" stroke-width="0.65"/>
<rect x="482.78" y="97.70" width="1" height="15.80" fill="#2a2a2a"/>
<rect x="482.28" y="109.60" width="2.0" height="1.80" fill="#00b04f" stroke="#1e1e1e" stroke-width="0.65"/>
<rect x="486.24" y="103.70" width="1" height="12.00" fill="#2a2a2a"/>
<rect x="485.74" y="110.00" width="2.0" height="4.70" fill="#9c0000" stroke="#1e1e1e" stroke-width="0.65"/>
<rect x="489.70" y="101.50" width="1" height="16.50" fill="#2a2a2a"/>
<rect x="489.20" y="104.80" width="2.0" height="10.60" fill="#00b04f" stroke="#1e1e1e" stroke-width="0.65"/>
<rect x="493.15" y="86.50" width="1" height="18.00" fill="#2a2a2a"/>
<rect x="492.65" y="102.10" width="2.0" height="1.80" fill="#00b04f" stroke="#1e1e1e" stroke-width="0.65"/>
<rect x="496.61" y="86.50" width="1" height="19.50" fill="#2a2a2a"/>
<rect x="496.11" y="93.50" width="2.0" height="7.70" fill="#00b04f" stroke="#1e1e1e" stroke-width="0.65"/>
<rect x="500.06" y="91.70" width="1" height="6.00" fill="#2a2a2a"/>
<rect x="499.56" y="94.00" width="2.0" height="1.90" fill="#00b04f" stroke="#1e1e1e" stroke-width="0.65"/>
<rect x="503.52" y="72.20" width="1" height="27.80" fill="#2a2a2a"/>
<rect x="503.02" y="76.30" width="2.0" height="18.90" fill="#00b04f" stroke="#1e1e1e" stroke-width="0.65"/>
<rect x="506.98" y="61.00" width="1" height="18.70" fill="#2a2a2a"/>
<rect x="506.48" y="72.50" width="2.0" height="3.90" fill="#00b04f" stroke="#1e1e1e" stroke-width="0.65"/>
<rect x="510.43" y="65.50" width="1" height="14.20" fill="#55ee55"/>
<rect x="509.63" y="71.20" width="2.6" height="1" fill="#55ee55"/>
<rect x="513.89" y="69.20" width="1" height="45.80" fill="#2a2a2a"/>
<rect x="513.39" y="72.50" width="2.0" height="40.70" fill="#9c0000" stroke="#1e1e1e" stroke-width="0.65"/>
<rect x="517.34" y="97.00" width="1" height="18.00" fill="#2a2a2a"/>
<rect x="516.84" y="112.80" width="2.0" height="1.40" fill="#00b04f" stroke="#1e1e1e" stroke-width="0.65"/>
<rect x="520.80" y="109.00" width="1" height="17.20" fill="#2a2a2a"/>
<rect x="520.30" y="113.00" width="2.0" height="7.70" fill="#9c0000" stroke="#1e1e1e" stroke-width="0.65"/>
<rect x="524.26" y="109.70" width="1" height="13.50" fill="#2a2a2a"/>
<rect x="523.76" y="113.80" width="2.0" height="6.90" fill="#00b04f" stroke="#1e1e1e" stroke-width="0.65"/>
</g>
<text x="6.4" y="348.3" font-size="7.2" fill="#1a1a1a" class="t" textLength="139.2" lengthAdjust="spacingAndGlyphs">MACD(12,26,9) 0.6738 0.8481 -0.1743</text>
<g clip-path="url(#clipMacd)">
<rect x="2.40" y="426.00" width="1.1" height="26.50" fill="#339933"/>
<rect x="5.86" y="432.10" width="1.1" height="20.40" fill="#339933"/>
<rect x="9.31" y="440.90" width="1.1" height="11.60" fill="#339933"/>
<rect x="12.77" y="445.90" width="1.1" height="6.60" fill="#339933"/>
<rect x="16.22" y="449.70" width="1.1" height="2.80" fill="#339933"/>
<rect x="19.68" y="451.90" width="1.1" height="0.60" fill="#339933"/>
<rect x="23.14" y="451.50" width="1.1" height="1.00" fill="#339933"/>
<rect x="26.59" y="452.50" width="1.1" height="1.00" fill="#339933"/>
<rect x="33.50" y="451.40" width="1.1" height="1.10" fill="#339933"/>
<rect x="36.96" y="450.80" width="1.1" height="1.70" fill="#339933"/>
<rect x="40.42" y="451.50" width="1.1" height="1.00" fill="#339933"/>
<rect x="43.87" y="451.80" width="1.1" height="0.70" fill="#339933"/>
<rect x="47.33" y="449.70" width="1.1" height="2.80" fill="#339933"/>
<rect x="54.24" y="452.50" width="1.1" height="7.50" fill="#339933"/>
<rect x="57.70" y="452.50" width="1.1" height="7.50" fill="#339933"/>
<rect x="61.15" y="452.50" width="1.1" height="6.80" fill="#339933"/>
<rect x="64.61" y="452.50" width="1.1" height="5.40" fill="#339933"/>
<rect x="68.06" y="452.50" width="1.1" height="4.60" fill="#339933"/>
<rect x="71.52" y="452.50" width="1.1" height="6.10" fill="#339933"/>
<rect x="74.98" y="452.50" width="1.1" height="7.50" fill="#339933"/>
<rect x="78.43" y="452.50" width="1.1" height="10.40" fill="#339933"/>
<rect x="81.89" y="452.50" width="1.1" height="10.40" fill="#339933"/>
<rect x="85.34" y="452.50" width="1.1" height="12.20" fill="#339933"/>
<rect x="88.80" y="452.50" width="1.1" height="13.90" fill="#339933"/>
<rect x="92.26" y="452.50" width="1.1" height="11.10" fill="#339933"/>
<rect x="95.71" y="452.50" width="1.1" height="8.20" fill="#339933"/>
<rect x="99.17" y="452.50" width="1.1" height="8.90" fill="#339933"/>
<rect x="102.62" y="452.50" width="1.1" height="14.60" fill="#339933"/>
<rect x="106.08" y="452.50" width="1.1" height="15.40" fill="#339933"/>
<rect x="109.54" y="452.50" width="1.1" height="16.10" fill="#339933"/>
<rect x="112.99" y="452.50" width="1.1" height="15.40" fill="#339933"/>
<rect x="116.45" y="452.50" width="1.1" height="12.50" fill="#339933"/>
<rect x="119.90" y="452.50" width="1.1" height="8.20" fill="#339933"/>
<rect x="123.36" y="449.30" width="1.1" height="3.20" fill="#339933"/>
<rect x="126.82" y="446.10" width="1.1" height="6.40" fill="#339933"/>
<rect x="130.27" y="445.00" width="1.1" height="7.50" fill="#339933"/>
<rect x="133.73" y="444.30" width="1.1" height="8.20" fill="#339933"/>
<rect x="137.18" y="444.30" width="1.1" height="8.20" fill="#339933"/>
<rect x="140.64" y="442.90" width="1.1" height="9.60" fill="#339933"/>
<rect x="144.10" y="447.90" width="1.1" height="4.60" fill="#339933"/>
<rect x="147.55" y="452.10" width="1.1" height="0.40" fill="#339933"/>
<rect x="151.01" y="452.50" width="1.1" height="3.20" fill="#339933"/>
<rect x="154.46" y="452.50" width="1.1" height="8.90" fill="#339933"/>
<rect x="157.92" y="452.50" width="1.1" height="13.20" fill="#339933"/>
<rect x="161.38" y="452.50" width="1.1" height="13.90" fill="#339933"/>
<rect x="164.83" y="452.50" width="1.1" height="12.50" fill="#339933"/>
<rect x="168.29" y="452.50" width="1.1" height="11.80" fill="#339933"/>
<rect x="171.74" y="452.50" width="1.1" height="11.10" fill="#339933"/>
<rect x="175.20" y="452.50" width="1.1" height="10.40" fill="#339933"/>
<rect x="178.66" y="452.50" width="1.1" height="7.50" fill="#339933"/>
<rect x="182.11" y="452.50" width="1.1" height="6.10" fill="#339933"/>
<rect x="185.57" y="452.50" width="1.1" height="8.90" fill="#339933"/>
<rect x="189.02" y="452.50" width="1.1" height="13.20" fill="#339933"/>
<rect x="192.48" y="452.50" width="1.1" height="13.20" fill="#339933"/>
<rect x="195.94" y="452.50" width="1.1" height="11.10" fill="#339933"/>
<rect x="199.39" y="452.50" width="1.1" height="8.90" fill="#339933"/>
<rect x="202.85" y="452.50" width="1.1" height="6.80" fill="#339933"/>
<rect x="206.30" y="452.50" width="1.1" height="3.20" fill="#339933"/>
<rect x="209.76" y="450.70" width="1.1" height="1.80" fill="#339933"/>
<rect x="213.22" y="448.60" width="1.1" height="3.90" fill="#339933"/>
<rect x="216.67" y="446.40" width="1.1" height="6.10" fill="#339933"/>
<rect x="220.13" y="446.10" width="1.1" height="6.40" fill="#339933"/>
<rect x="223.58" y="448.60" width="1.1" height="3.90" fill="#339933"/>
<rect x="227.04" y="445.00" width="1.1" height="7.50" fill="#339933"/>
<rect x="230.50" y="447.10" width="1.1" height="5.40" fill="#339933"/>
<rect x="233.95" y="452.50" width="1.1" height="2.50" fill="#339933"/>
<rect x="237.41" y="452.50" width="1.1" height="8.90" fill="#339933"/>
<rect x="240.86" y="452.50" width="1.1" height="8.90" fill="#339933"/>
<rect x="244.32" y="452.50" width="1.1" height="4.60" fill="#339933"/>
<rect x="247.78" y="452.00" width="1.1" height="0.50" fill="#339933"/>
<rect x="251.23" y="448.60" width="1.1" height="3.90" fill="#339933"/>
<rect x="254.69" y="446.40" width="1.1" height="6.10" fill="#339933"/>
<rect x="258.14" y="444.30" width="1.1" height="8.20" fill="#339933"/>
<rect x="261.60" y="445.70" width="1.1" height="6.80" fill="#339933"/>
<rect x="265.06" y="443.60" width="1.1" height="8.90" fill="#339933"/>
<rect x="268.51" y="445.00" width="1.1" height="7.50" fill="#339933"/>
<rect x="271.97" y="445.00" width="1.1" height="7.50" fill="#339933"/>
<rect x="275.42" y="445.00" width="1.1" height="7.50" fill="#339933"/>
<rect x="278.88" y="445.00" width="1.1" height="7.50" fill="#339933"/>
<rect x="282.34" y="443.60" width="1.1" height="8.90" fill="#339933"/>
<rect x="285.79" y="442.90" width="1.1" height="9.60" fill="#339933"/>
<rect x="289.25" y="442.10" width="1.1" height="10.40" fill="#339933"/>
<rect x="292.70" y="441.40" width="1.1" height="11.10" fill="#339933"/>
<rect x="296.16" y="442.90" width="1.1" height="9.60" fill="#339933"/>
<rect x="299.62" y="446.40" width="1.1" height="6.10" fill="#339933"/>
<rect x="303.07" y="450.40" width="1.1" height="2.10" fill="#339933"/>
<rect x="306.53" y="451.10" width="1.1" height="1.40" fill="#339933"/>
<rect x="309.98" y="451.10" width="1.1" height="1.40" fill="#339933"/>
<rect x="313.44" y="450.00" width="1.1" height="2.50" fill="#339933"/>
<rect x="316.90" y="447.90" width="1.1" height="4.60" fill="#339933"/>
<rect x="320.35" y="440.00" width="1.1" height="12.50" fill="#339933"/>
<rect x="323.81" y="436.40" width="1.1" height="16.10" fill="#339933"/>
<rect x="327.26" y="435.00" width="1.1" height="17.50" fill="#339933"/>
<rect x="330.72" y="435.00" width="1.1" height="17.50" fill="#339933"/>
<rect x="334.18" y="437.90" width="1.1" height="14.60" fill="#339933"/>
<rect x="337.63" y="441.40" width="1.1" height="11.10" fill="#339933"/>
<rect x="341.09" y="446.40" width="1.1" height="6.10" fill="#339933"/>
<rect x="344.54" y="447.90" width="1.1" height="4.60" fill="#339933"/>
<rect x="348.00" y="450.00" width="1.1" height="2.50" fill="#339933"/>
<rect x="354.91" y="452.50" width="1.1" height="3.20" fill="#339933"/>
<rect x="358.37" y="452.50" width="1.1" height="5.40" fill="#339933"/>
<rect x="361.82" y="452.50" width="1.1" height="11.10" fill="#339933"/>
<rect x="365.28" y="452.50" width="1.1" height="11.10" fill="#339933"/>
<rect x="368.74" y="452.50" width="1.1" height="8.90" fill="#339933"/>
<rect x="372.19" y="452.50" width="1.1" height="14.60" fill="#339933"/>
<rect x="375.65" y="452.50" width="1.1" height="16.80" fill="#339933"/>
<rect x="379.10" y="452.50" width="1.1" height="20.40" fill="#339933"/>
<rect x="382.56" y="452.50" width="1.1" height="26.80" fill="#339933"/>
<rect x="386.02" y="452.50" width="1.1" height="26.80" fill="#339933"/>
<rect x="389.47" y="452.50" width="1.1" height="25.40" fill="#339933"/>
<rect x="392.93" y="452.50" width="1.1" height="22.50" fill="#339933"/>
<rect x="396.38" y="452.50" width="1.1" height="18.90" fill="#339933"/>
<rect x="399.84" y="452.50" width="1.1" height="13.90" fill="#339933"/>
<rect x="403.30" y="452.50" width="1.1" height="10.40" fill="#339933"/>
<rect x="406.75" y="452.50" width="1.1" height="10.40" fill="#339933"/>
<rect x="410.21" y="452.50" width="1.1" height="11.10" fill="#339933"/>
<rect x="413.66" y="452.50" width="1.1" height="9.60" fill="#339933"/>
<rect x="417.12" y="452.50" width="1.1" height="3.90" fill="#339933"/>
<rect x="424.03" y="450.00" width="1.1" height="2.50" fill="#339933"/>
<rect x="427.49" y="446.60" width="1.1" height="5.90" fill="#339933"/>
<rect x="430.94" y="444.00" width="1.1" height="8.50" fill="#339933"/>
<rect x="434.40" y="441.40" width="1.1" height="11.10" fill="#339933"/>
<rect x="437.86" y="438.90" width="1.1" height="13.60" fill="#339933"/>
<rect x="441.31" y="438.50" width="1.1" height="14.00" fill="#339933"/>
<rect x="444.77" y="441.40" width="1.1" height="11.10" fill="#339933"/>
<rect x="448.22" y="434.60" width="1.1" height="17.90" fill="#339933"/>
<rect x="451.68" y="432.90" width="1.1" height="19.60" fill="#339933"/>
<rect x="455.14" y="432.00" width="1.1" height="20.50" fill="#339933"/>
<rect x="458.59" y="433.70" width="1.1" height="18.80" fill="#339933"/>
<rect x="462.05" y="435.80" width="1.1" height="16.70" fill="#339933"/>
<rect x="465.50" y="438.00" width="1.1" height="14.50" fill="#339933"/>
<rect x="468.96" y="438.00" width="1.1" height="14.50" fill="#339933"/>
<rect x="472.42" y="438.00" width="1.1" height="14.50" fill="#339933"/>
<rect x="475.87" y="438.50" width="1.1" height="14.00" fill="#339933"/>
<rect x="479.33" y="435.80" width="1.1" height="16.70" fill="#339933"/>
<rect x="482.78" y="434.60" width="1.1" height="17.90" fill="#339933"/>
<rect x="486.24" y="436.30" width="1.1" height="16.20" fill="#339933"/>
<rect x="489.70" y="437.10" width="1.1" height="15.40" fill="#339933"/>
<rect x="493.15" y="438.00" width="1.1" height="14.50" fill="#339933"/>
<rect x="496.61" y="438.50" width="1.1" height="14.00" fill="#339933"/>
<rect x="500.06" y="440.60" width="1.1" height="11.90" fill="#339933"/>
<rect x="503.52" y="439.20" width="1.1" height="13.30" fill="#339933"/>
<rect x="506.98" y="438.50" width="1.1" height="14.00" fill="#339933"/>
<rect x="510.43" y="439.20" width="1.1" height="13.30" fill="#339933"/>
<rect x="513.89" y="451.70" width="1.1" height="0.80" fill="#339933"/>
<rect x="517.34" y="452.50" width="1.1" height="6.90" fill="#339933"/>
<rect x="520.80" y="452.50" width="1.1" height="13.80" fill="#339933"/>
<rect x="524.26" y="452.50" width="1.1" height="17.20" fill="#339933"/>
<path d="M2.00,393.00 C3.00,391.67 5.67,386.90 8.00,385.00 C10.33,383.10 12.67,382.03 16.00,381.60 C19.33,381.17 24.33,382.60 28.00,382.40 C31.67,382.20 34.33,380.97 38.00,380.40 C41.67,379.83 46.33,378.57 50.00,379.00 C53.67,379.43 56.67,381.57 60.00,383.00 C63.33,384.43 66.67,385.77 70.00,387.60 C73.33,389.43 76.67,391.43 80.00,394.00 C83.33,396.57 86.67,400.17 90.00,403.00 C93.33,405.83 96.67,407.83 100.00,411.00 C103.33,414.17 106.67,419.00 110.00,422.00 C113.33,425.00 116.67,428.50 120.00,429.00 C123.33,429.50 126.67,426.83 130.00,425.00 C133.33,423.17 137.00,419.73 140.00,418.00 C143.00,416.27 145.00,413.93 148.00,414.60 C151.00,415.27 154.33,419.10 158.00,422.00 C161.67,424.90 165.67,428.83 170.00,432.00 C174.33,435.17 179.67,437.83 184.00,441.00 C188.33,444.17 192.38,448.32 196.00,451.00 C199.62,453.68 201.93,456.92 205.70,457.10 C209.47,457.28 214.55,453.77 218.60,452.10 C222.65,450.43 226.67,447.33 230.00,447.10 C233.33,446.87 235.98,449.73 238.60,450.70 C241.22,451.67 242.62,453.37 245.70,452.90 C248.78,452.43 253.05,450.05 257.10,447.90 C261.15,445.75 265.95,442.50 270.00,440.00 C274.05,437.50 278.07,435.57 281.40,432.90 C284.73,430.23 286.90,426.32 290.00,424.00 C293.10,421.68 296.67,420.17 300.00,419.00 C303.33,417.83 306.67,418.33 310.00,417.00 C313.33,415.67 316.67,414.00 320.00,411.00 C323.33,408.00 326.67,402.50 330.00,399.00 C333.33,395.50 336.67,391.93 340.00,390.00 C343.33,388.07 347.33,387.80 350.00,387.40 C352.67,387.00 353.67,386.67 356.00,387.60 C358.33,388.53 361.33,390.93 364.00,393.00 C366.67,395.07 369.67,397.50 372.00,400.00 C374.33,402.50 376.00,404.67 378.00,408.00 C380.00,411.33 382.00,416.17 384.00,420.00 C386.00,423.83 387.82,427.18 390.00,431.00 C392.18,434.82 394.48,439.62 397.10,442.90 C399.72,446.18 403.07,448.33 405.70,450.70 C408.33,453.07 410.75,455.78 412.90,457.10 C415.05,458.42 416.23,458.93 418.60,458.60 C420.97,458.27 424.25,456.68 427.10,455.10 C429.95,453.52 432.83,451.67 435.70,449.10 C438.57,446.53 441.73,442.70 444.30,439.70 C446.87,436.70 448.48,434.38 451.10,431.10 C453.72,427.82 455.18,426.35 460.00,420.00 C464.82,413.65 474.00,400.33 480.00,393.00 C486.00,385.67 491.33,380.83 496.00,376.00 C500.67,371.17 505.00,366.77 508.00,364.00 C511.00,361.23 511.33,358.73 514.00,359.40 C516.67,360.07 522.33,366.57 524.00,368.00" fill="none" stroke="#ff4646" stroke-width="1.05" stroke-dasharray="2.6,2"/>
<path d="M3.00,366.40 C3.50,366.67 4.50,366.57 6.00,368.00 C7.50,369.43 9.67,373.00 12.00,375.00 C14.33,377.00 17.50,378.57 20.00,380.00 C22.50,381.43 24.83,383.50 27.00,383.60 C29.17,383.70 30.83,381.53 33.00,380.60 C35.17,379.67 38.17,378.27 40.00,378.00 C41.83,377.73 42.73,379.33 44.00,379.00 C45.27,378.67 46.43,375.83 47.60,376.00 C48.77,376.17 49.93,378.00 51.00,380.00 C52.07,382.00 52.67,386.10 54.00,388.00 C55.33,389.90 56.67,390.83 59.00,391.40 C61.33,391.97 65.83,390.97 68.00,391.40 C70.17,391.83 70.50,392.40 72.00,394.00 C73.50,395.60 75.17,398.83 77.00,401.00 C78.83,403.17 81.00,404.67 83.00,407.00 C85.00,409.33 86.67,413.60 89.00,415.00 C91.33,416.40 95.00,414.40 97.00,415.40 C99.00,416.40 99.67,418.57 101.00,421.00 C102.33,423.43 103.33,427.33 105.00,430.00 C106.67,432.67 109.17,435.33 111.00,437.00 C112.83,438.67 114.50,440.00 116.00,440.00 C117.50,440.00 118.83,439.50 120.00,437.00 C121.17,434.50 121.33,428.33 123.00,425.00 C124.67,421.67 127.17,420.00 130.00,417.00 C132.83,414.00 137.33,408.00 140.00,407.00 C142.67,406.00 143.67,408.33 146.00,411.00 C148.33,413.67 151.50,418.33 154.00,423.00 C156.50,427.67 158.67,435.67 161.00,439.00 C163.33,442.33 165.50,441.60 168.00,443.00 C170.50,444.40 173.67,446.83 176.00,447.40 C178.33,447.97 180.17,445.37 182.00,446.40 C183.83,447.43 185.18,451.10 187.00,453.60 C188.82,456.10 190.73,459.50 192.90,461.40 C195.07,463.30 197.87,465.00 200.00,465.00 C202.13,465.00 203.32,463.90 205.70,461.40 C208.08,458.90 211.92,452.85 214.30,450.00 C216.68,447.15 218.33,445.37 220.00,444.30 C221.67,443.23 222.98,444.43 224.30,443.60 C225.62,442.77 226.72,439.90 227.90,439.30 C229.08,438.70 230.33,438.57 231.40,440.00 C232.47,441.43 233.22,444.80 234.30,447.90 C235.38,451.00 236.72,456.58 237.90,458.60 C239.08,460.62 240.22,460.25 241.40,460.00 C242.58,459.75 243.33,459.25 245.00,457.10 C246.67,454.95 249.13,450.18 251.40,447.10 C253.67,444.02 256.68,440.13 258.60,438.60 C260.52,437.07 261.23,438.73 262.90,437.90 C264.57,437.07 266.47,435.03 268.60,433.60 C270.73,432.17 273.80,430.65 275.70,429.30 C277.60,427.95 277.95,427.38 280.00,425.50 C282.05,423.62 285.33,420.52 288.00,418.00 C290.67,415.48 294.00,411.47 296.00,410.40 C298.00,409.33 298.67,410.73 300.00,411.60 C301.33,412.47 302.33,415.03 304.00,415.60 C305.67,416.17 307.83,415.87 310.00,415.00 C312.17,414.13 315.00,413.57 317.00,410.40 C319.00,407.23 320.17,400.40 322.00,396.00 C323.83,391.60 326.33,386.67 328.00,384.00 C329.67,381.33 330.33,380.73 332.00,380.00 C333.67,379.27 336.33,379.17 338.00,379.60 C339.67,380.03 340.33,382.03 342.00,382.60 C343.67,383.17 346.17,382.27 348.00,383.00 C349.83,383.73 351.33,385.33 353.00,387.00 C354.67,388.67 356.50,390.50 358.00,393.00 C359.50,395.50 360.33,399.33 362.00,402.00 C363.67,404.67 366.00,406.33 368.00,409.00 C370.00,411.67 372.33,415.17 374.00,418.00 C375.67,420.83 377.00,423.77 378.00,426.00 C379.00,428.23 379.07,428.35 380.00,431.40 C380.93,434.45 382.42,440.48 383.60,444.30 C384.78,448.12 385.55,451.57 387.10,454.30 C388.65,457.03 391.23,459.47 392.90,460.70 C394.57,461.93 395.57,461.93 397.10,461.70 C398.63,461.47 400.67,459.23 402.10,459.30 C403.53,459.37 404.62,461.08 405.70,462.10 C406.78,463.12 407.28,464.68 408.60,465.40 C409.92,466.12 412.52,466.25 413.60,466.40 C414.68,466.55 414.03,467.37 415.10,466.30 C416.17,465.23 418.57,462.00 420.00,460.00 C421.43,458.00 421.65,457.40 423.70,454.30 C425.75,451.20 430.58,443.95 432.30,441.40 C434.02,438.85 432.55,441.23 434.00,439.00 C435.45,436.77 439.17,430.00 441.00,428.00 C442.83,426.00 443.50,429.17 445.00,427.00 C446.50,424.83 448.17,418.83 450.00,415.00 C451.83,411.17 453.83,407.00 456.00,404.00 C458.17,401.00 461.17,398.33 463.00,397.00 C464.83,395.67 465.33,397.33 467.00,396.00 C468.67,394.67 471.17,391.00 473.00,389.00 C474.83,387.00 476.33,386.67 478.00,384.00 C479.67,381.33 481.17,375.67 483.00,373.00 C484.83,370.33 486.67,370.33 489.00,368.00 C491.33,365.67 495.00,360.73 497.00,359.00 C499.00,357.27 499.33,359.27 501.00,357.60 C502.67,355.93 505.33,350.77 507.00,349.00 C508.67,347.23 509.83,345.50 511.00,347.00 C512.17,348.50 512.50,353.17 514.00,358.00 C515.50,362.83 518.17,371.40 520.00,376.00 C521.83,380.60 524.17,384.00 525.00,385.60" fill="none" stroke="#2f2fff" stroke-width="1.15"/>
</g>
<rect x="665.5" y="58.48" width="1.8" height="1" fill="#333"/>
<text x="669.9" y="61.28" font-size="7.5" fill="#1a1a1a" class="t" textLength="24.2" lengthAdjust="spacingAndGlyphs">76.730</text>
<rect x="665.5" y="81.50" width="1.8" height="1" fill="#333"/>
<text x="669.9" y="84.30" font-size="7.5" fill="#1a1a1a" class="t" textLength="24.2" lengthAdjust="spacingAndGlyphs">75.880</text>
<rect x="665.5" y="104.50" width="1.8" height="1" fill="#333"/>
<text x="669.9" y="107.30" font-size="7.5" fill="#1a1a1a" class="t" textLength="24.2" lengthAdjust="spacingAndGlyphs">75.005</text>
<rect x="665.5" y="127.50" width="1.8" height="1" fill="#333"/>
<text x="669.9" y="130.30" font-size="7.5" fill="#1a1a1a" class="t" textLength="24.2" lengthAdjust="spacingAndGlyphs">74.155</text>
<rect x="665.5" y="150.60" width="1.8" height="1" fill="#333"/>
<text x="669.9" y="153.40" font-size="7.5" fill="#1a1a1a" class="t" textLength="24.2" lengthAdjust="spacingAndGlyphs">73.305</text>
<rect x="665.5" y="173.60" width="1.8" height="1" fill="#333"/>
<text x="669.9" y="176.40" font-size="7.5" fill="#1a1a1a" class="t" textLength="24.2" lengthAdjust="spacingAndGlyphs">72.455</text>
<rect x="665.5" y="196.60" width="1.8" height="1" fill="#333"/>
<text x="669.9" y="199.40" font-size="7.5" fill="#1a1a1a" class="t" textLength="24.2" lengthAdjust="spacingAndGlyphs">71.580</text>
<rect x="665.5" y="219.60" width="1.8" height="1" fill="#333"/>
<text x="669.9" y="222.40" font-size="7.5" fill="#1a1a1a" class="t" textLength="24.2" lengthAdjust="spacingAndGlyphs">70.730</text>
<rect x="665.5" y="242.70" width="1.8" height="1" fill="#333"/>
<text x="669.9" y="245.50" font-size="7.5" fill="#1a1a1a" class="t" textLength="24.2" lengthAdjust="spacingAndGlyphs">69.880</text>
<rect x="665.5" y="265.70" width="1.8" height="1" fill="#333"/>
<text x="669.9" y="268.50" font-size="7.5" fill="#1a1a1a" class="t" textLength="24.2" lengthAdjust="spacingAndGlyphs">69.005</text>
<rect x="665.5" y="288.70" width="1.8" height="1" fill="#333"/>
<text x="669.9" y="291.50" font-size="7.5" fill="#1a1a1a" class="t" textLength="24.2" lengthAdjust="spacingAndGlyphs">68.155</text>
<rect x="665.5" y="311.70" width="1.8" height="1" fill="#333"/>
<text x="669.9" y="314.50" font-size="7.5" fill="#1a1a1a" class="t" textLength="24.2" lengthAdjust="spacingAndGlyphs">67.305</text>
<rect x="665.5" y="334.70" width="1.8" height="1" fill="#333"/>
<text x="669.9" y="337.50" font-size="7.5" fill="#1a1a1a" class="t" textLength="24.2" lengthAdjust="spacingAndGlyphs">66.455</text>
<rect x="665.5" y="339.70" width="1.8" height="1" fill="#333"/>
<text x="668.3" y="346.60" font-size="7.5" fill="#1a1a1a" class="t" textLength="23.5" lengthAdjust="spacingAndGlyphs">1.1495</text>
<rect x="665.5" y="452.20" width="1.8" height="1" fill="#333"/>
<text x="668.3" y="455.40" font-size="7.5" fill="#1a1a1a" class="t" textLength="15" lengthAdjust="spacingAndGlyphs">0.00</text>
<rect x="665.5" y="486.30" width="1.8" height="1" fill="#333"/>
<text x="668.3" y="486.20" font-size="7.5" fill="#1a1a1a" class="t" textLength="27" lengthAdjust="spacingAndGlyphs">-0.3567</text>
<rect x="666.2" y="49.70" width="31.3" height="7.6" fill="#ff0000"/>
<text x="669.9" y="55.90" font-size="7.5" fill="#ffffff" class="w" textLength="24" lengthAdjust="spacingAndGlyphs">76.900</text>
<rect x="666.2" y="90.10" width="31.3" height="7.6" fill="#ff0000"/>
<text x="669.9" y="96.30" font-size="7.5" fill="#ffffff" class="w" textLength="24" lengthAdjust="spacingAndGlyphs">75.403</text>
<rect x="666.2" y="109.40" width="31.3" height="7.6" fill="#000000"/>
<text x="669.9" y="115.60" font-size="7.5" fill="#ffffff" class="w" textLength="24" lengthAdjust="spacingAndGlyphs">74.710</text>
<rect x="666.2" y="131.20" width="31.3" height="7.6" fill="#ff0000"/>
<text x="669.9" y="137.40" font-size="7.5" fill="#ffffff" class="w" textLength="24" lengthAdjust="spacingAndGlyphs">73.869</text>
<rect x="666.2" y="175.30" width="31.3" height="7.6" fill="#ff0000"/>
<text x="669.9" y="181.50" font-size="7.5" fill="#ffffff" class="w" textLength="24" lengthAdjust="spacingAndGlyphs">72.246</text>
<rect x="666.2" y="235.40" width="31.3" height="7.6" fill="#ff0000"/>
<text x="669.9" y="241.60" font-size="7.5" fill="#ffffff" class="w" textLength="24" lengthAdjust="spacingAndGlyphs">69.995</text>
<rect x="2.40" y="488" width="1" height="2.4" fill="#333"/>
<text x="2.00" y="496.9" font-size="7.5" fill="#1a1a1a" class="t" textLength="44.9" lengthAdjust="spacingAndGlyphs">25 Aug 2021</text>
<rect x="57.70" y="488" width="1" height="2.4" fill="#333"/>
<text x="57.30" y="496.9" font-size="7.5" fill="#1a1a1a" class="t" textLength="47.0" lengthAdjust="spacingAndGlyphs">30 Aug 08:00</text>
<rect x="113.00" y="488" width="1" height="2.4" fill="#333"/>
<text x="112.60" y="496.9" font-size="7.5" fill="#1a1a1a" class="t" textLength="43.0" lengthAdjust="spacingAndGlyphs">2 Sep 00:00</text>
<rect x="168.30" y="488" width="1" height="2.4" fill="#333"/>
<text x="167.90" y="496.9" font-size="7.5" fill="#1a1a1a" class="t" textLength="43.0" lengthAdjust="spacingAndGlyphs">6 Sep 12:00</text>
<rect x="223.60" y="488" width="1" height="2.4" fill="#333"/>
<text x="223.20" y="496.9" font-size="7.5" fill="#1a1a1a" class="t" textLength="43.0" lengthAdjust="spacingAndGlyphs">9 Sep 04:00</text>
<rect x="278.90" y="488" width="1" height="2.4" fill="#333"/>
<text x="278.50" y="496.9" font-size="7.5" fill="#1a1a1a" class="t" textLength="47.4" lengthAdjust="spacingAndGlyphs">13 Sep 12:00</text>
<rect x="334.20" y="488" width="1" height="2.4" fill="#333"/>
<text x="333.80" y="496.9" font-size="7.5" fill="#1a1a1a" class="t" textLength="47.4" lengthAdjust="spacingAndGlyphs">16 Sep 04:00</text>
<rect x="389.50" y="488" width="1" height="2.4" fill="#333"/>
<text x="389.10" y="496.9" font-size="7.5" fill="#1a1a1a" class="t" textLength="47.4" lengthAdjust="spacingAndGlyphs">20 Sep 16:00</text>
<rect x="444.80" y="488" width="1" height="2.4" fill="#333"/>
<text x="444.40" y="496.9" font-size="7.5" fill="#1a1a1a" class="t" textLength="47.4" lengthAdjust="spacingAndGlyphs">23 Sep 08:00</text>
<rect x="500.10" y="488" width="1" height="2.4" fill="#333"/>
<text x="499.70" y="496.9" font-size="7.5" fill="#1a1a1a" class="t" textLength="47.4" lengthAdjust="spacingAndGlyphs">27 Sep 20:00</text>
</svg>
</body></html>
